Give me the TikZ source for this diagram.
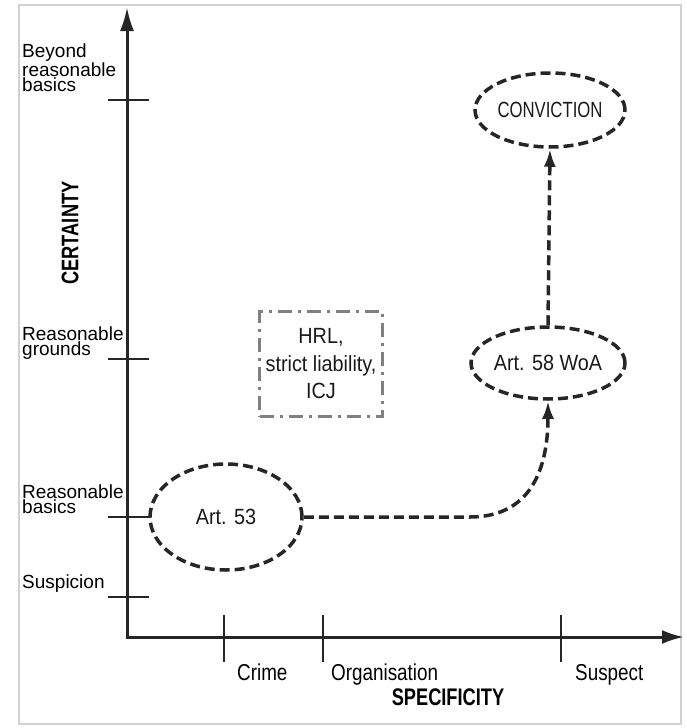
\documentclass[tikz,border=0pt]{standalone}
\usepackage{fontspec}
\setmainfont{Liberation Sans}
\newfontfamily\narrowfont[FakeStretch=0.82]{Liberation Sans}
\newfontfamily\stagefont[FakeStretch=0.9]{Liberation Sans}
\newfontfamily\capsfont[FakeStretch=0.76]{Liberation Sans}
\usetikzlibrary{arrows.meta,shapes.geometric}

\begin{document}
\begin{tikzpicture}
  [x=1pt, y=-1pt,
   axis/.style={line width=3pt, draw=black!85},
   tick/.style={line width=2pt, draw=black!85},
   level/.style={font=\fontsize{19}{15}\selectfont, align=left, inner sep=0pt},
   kind/.style={font=\narrowfont\fontsize{23}{26}\selectfont, inner sep=0pt},
   title/.style={font=\capsfont\bfseries\fontsize{24}{26}\selectfont, inner sep=0pt},
   stage/.style={ellipse, draw=black!85, line width=3.5pt,
     dash pattern=on 10pt off 5pt, inner sep=0pt},
   stagetext/.style={font=\stagefont\fontsize{22}{26}\selectfont, text=black!90},
   link/.style={line width=3.5pt, draw=black!85, dash pattern=on 10pt off 5pt,
     -{Latex[length=18pt,width=12pt]}}]
  \useasboundingbox (0,0) rectangle (686,728);
  \draw[black!18, line width=2pt] (19,5) rectangle (681,724);

  % axes
  \draw[axis, {Latex[length=24pt,width=14pt]}-{Latex[length=22pt,width=14pt]}]
    (127,7) -- (127,637) -- (684,637);
  \foreach \y in {100,359,517,597}{
    \draw[tick] (108,\y) -- (149,\y);}
  \foreach \x in {224,323,561}{
    \draw[tick] (\x,615) -- (\x,662);}

  % certainty levels
  \foreach \name/\y/\txt in {beyond/92/{Beyond\\reasonable\\basics},
                  grounds/360/{Reasonable\\grounds},
                  basics/514/{Reasonable\\basics},
                  suspicion/593/{Suspicion}}{
    \node[level, anchor=south west] (\name) at (22,\y) {\txt};}
  \node[title, rotate=90] (certainty) at (70,233) {CERTAINTY};

  % specificity levels
  \foreach \name/\x/\txt in {crime/237/Crime,org/331/Organisation,
                  suspect/575/Suspect}{
    \node[kind, anchor=base west] (\name) at (\x,680) {\txt};}
  \node[title] (specificity) at (448,697) {SPECIFICITY};

  % stages
  \node[stage, minimum width=152pt, minimum height=106pt,
    label={[stagetext]center:Art. 53}] (art53) at (226,517) {};
  \node[stage, minimum width=154pt, minimum height=72pt,
    label={[stagetext]center:Art. 58 WoA}] (art58) at (548,363) {};
  \node[stage, minimum width=150pt, minimum height=74pt,
    label={[stagetext, font=\capsfont\fontsize{22}{26}\selectfont]center:CONVICTION}]
    (conv) at (550,110) {};
  \node[draw=black!50, line width=3pt, dash pattern=on 14pt off 6pt on 3pt off 6pt,
    minimum width=123pt, minimum height=105pt, align=center, text=black!90,
    font=\stagefont\fontsize{22}{27.5}\selectfont]
    (hrl) at (321,364) {HRL,\\strict liability,\\ICJ};

  \draw[link] (art53.east) -- (470,517)
    .. controls (530,517) and (548,470) .. (art58.south);
  \draw[link] (art58.north) -- (conv.south);
\end{tikzpicture}
\end{document}
